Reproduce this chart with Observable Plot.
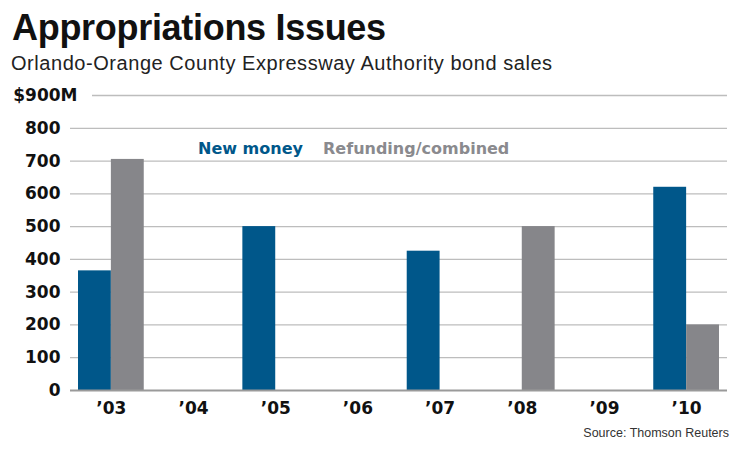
<!DOCTYPE html>
<html>
<head>
<meta charset="utf-8">
<script src="https://cdn.jsdelivr.net/npm/d3@7"></script>
<script src="https://cdn.jsdelivr.net/npm/@observablehq/plot@0.6"></script>
<style>
  html, body { margin: 0; padding: 0; background: #fff; }
  #wrap { position: relative; width: 740px; height: 451px; overflow: hidden; background: #fff; }
  .abs { position: absolute; white-space: nowrap; line-height: 1; }
  #title { left: 12px; top: 6.5px; font: bold 36px "Liberation Sans", Arial, sans-serif; letter-spacing: -0.3px; color: #111; }
  #subtitle { left: 11px; top: 52px; font: 20px "Liberation Sans", Arial, sans-serif; letter-spacing: 0.55px; color: #222; }
  .leg { top: 138.5px; font: bold 16px "DejaVu Sans", sans-serif; }
  #source { right: 11px; top: 426px; font: 12.5px "Liberation Sans", Arial, sans-serif; color: #333; }
  #chart { position: absolute; left: 0; top: 80px; }
</style>
</head>
<body>
<div id="wrap">
  <div id="title" class="abs">Appropriations Issues</div>
  <div id="subtitle" class="abs">Orlando-Orange County Expressway Authority bond sales</div>
  <div id="chart"></div>
  <div class="abs leg" id="leg1" style="left:198px;color:#00578a">New money</div>
  <div class="abs leg" id="leg2" style="left:323px;color:#8a8a8e">Refunding/combined</div>
  <div id="source" class="abs">Source: Thomson Reuters</div>
</div>
<script>
const years = ["\u201903", "\u201904", "\u201905", "\u201906", "\u201907", "\u201908", "\u201909", "\u201910"];
const newMoney = [365, 0, 500, 0, 425, 0, 0, 620];
const refunding = [705, 0, 0, 0, 0, 500, 0, 200];
const yTicks = [0, 100, 200, 300, 400, 500, 600, 700, 800];
const topTick = 900;
const topTickLabel = "$900M";

const BLUE = "#00578a";
const GRAY = "#86868a";

const xRange = [78, 719];
const padInner = 0.2;
const bandW = (xRange[1] - xRange[0]) / (years.length - padInner) * (1 - padInner);
const half = bandW / 2;

const newData = years.map((y, i) => ({year: y, value: newMoney[i]})).filter(d => d.value > 0);
const refData = years.map((y, i) => ({year: y, value: refunding[i]})).filter(d => d.value > 0);

const font = "DejaVu Sans, sans-serif";

const chart = Plot.plot({
  width: 740,
  height: 345,
  marginTop: 15,
  marginBottom: 35,
  marginLeft: 70,
  marginRight: 13,
  style: {background: "transparent", color: "#111"},
  x: {type: "band", domain: years, range: xRange, paddingInner: padInner, paddingOuter: 0, round: false},
  y: {domain: [0, 900]},
  marks: [
    Plot.ruleY(yTicks.filter(t => t > 0), {stroke: "#bdbdbd", strokeWidth: 1.3}),
    Plot.ruleY([topTick], {stroke: "#bdbdbd", strokeWidth: 1.3, insetLeft: 22}),
    Plot.barY(newData, {x: "year", y: "value", fill: BLUE, insetLeft: 0, insetRight: half}),
    Plot.barY(refData, {x: "year", y: "value", fill: GRAY, insetLeft: half, insetRight: 0}),
    Plot.ruleY([0], {stroke: "#9a9a9a", strokeWidth: 2}),
    Plot.axisY(yTicks, {tickSize: 0, tickPadding: 10, fontSize: 17, fontWeight: "bold", fontFamily: font, fill: "#111", label: null}),
    Plot.axisY([topTick], {tickSize: 0, tickPadding: -7, tickFormat: () => topTickLabel, fontSize: 17, fontWeight: "bold", fontFamily: font, fill: "#111", label: null}),
    Plot.axisX({tickSize: 0, tickPadding: 11, fontSize: 17, fontWeight: "bold", fontFamily: font, fill: "#111", label: null})
  ]
});
document.getElementById("chart").appendChild(chart);
</script>
</body>
</html>
